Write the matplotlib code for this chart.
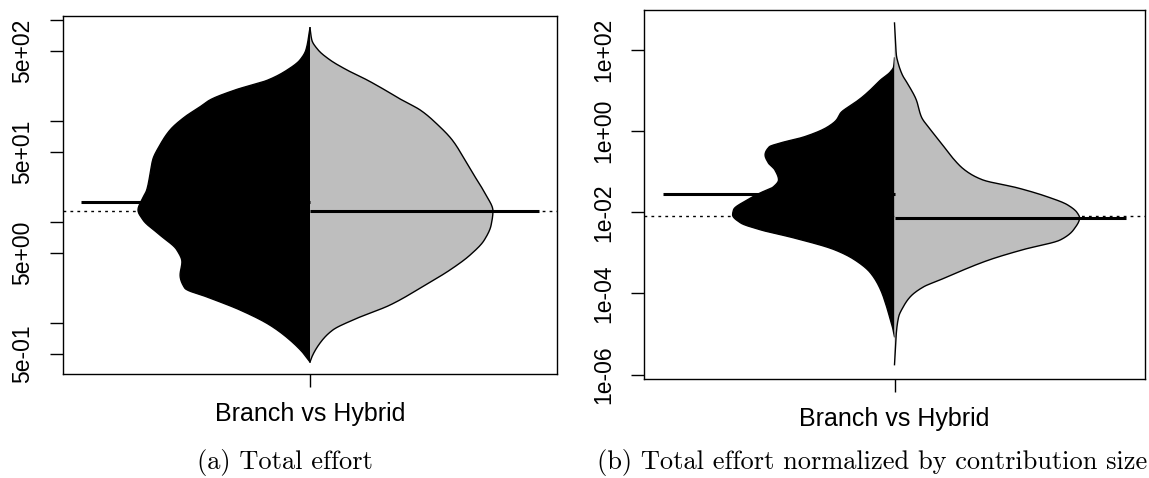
import numpy as np
import matplotlib
matplotlib.use("Agg")
import matplotlib.pyplot as plt

GROUP_LABEL = "Branch vs Hybrid"
CAPTION_A = "(a) Total effort"
CAPTION_B = "(b) Total effort normalized by contribution size"

# ---- (a) Total effort: density half-widths on a log10 grid -------------
effort_branch_log = [2.926, 2.706, 2.607, 2.508, 2.409, 2.310, 2.211, 2.142, 2.043,
                     1.914, 1.766, 1.617, 1.468, 1.320, 1.221, 1.122, 1.023, 0.874,
                     0.726, 0.607, 0.478, 0.350, 0.251, 0.132, -0.017, -0.165,
                     -0.294, -0.383]
effort_branch_width = [0.000, 0.009, 0.022, 0.050, 0.092, 0.164, 0.219, 0.241, 0.274,
                       0.306, 0.328, 0.344, 0.350, 0.357, 0.368, 0.376, 0.365, 0.328,
                       0.291, 0.280, 0.284, 0.274, 0.219, 0.153, 0.088, 0.044,
                       0.015, 0.000]
effort_hybrid_log = [2.926, 2.805, 2.706, 2.607, 2.508, 2.409, 2.310, 2.211, 2.112,
                     1.963, 1.815, 1.617, 1.419, 1.270, 1.112, 0.973, 0.824, 0.676,
                     0.528, 0.379, 0.181, 0.033, -0.066, -0.195, -0.334, -0.383]
effort_hybrid_width = [0.000, 0.004, 0.018, 0.044, 0.081, 0.125, 0.164, 0.201, 0.241,
                       0.280, 0.311, 0.339, 0.365, 0.385, 0.400, 0.396, 0.381, 0.350,
                       0.306, 0.252, 0.175, 0.094, 0.050, 0.022, 0.004, 0.000]
effort_branch_mean = 15.9
effort_hybrid_mean = 12.94
effort_overall_mean = 13.03
effort_ticks = [0.5, 1, 5, 10, 50, 100, 500, 1000]
effort_tick_labels = ["5e-01", "", "5e+00", "", "5e+01", "", "5e+02", ""]

# ---- (b) Effort normalized by contribution size ------------------------
norm_branch_log = [1.804, 1.582, 1.459, 1.262, 1.016, 0.844, 0.696, 0.450, 0.277,
                   0.105, -0.142, -0.289, -0.388, -0.585, -0.782, -0.954, -1.201,
                   -1.373, -1.521, -1.693, -1.940, -2.063, -2.260, -2.432, -2.629,
                   -2.925, -3.171, -3.491, -3.910, -4.329, -4.649, -4.895, -5.068]
norm_branch_width = [0.000, 0.002, 0.009, 0.030, 0.052, 0.069, 0.086, 0.116, 0.125,
                     0.144, 0.195, 0.245, 0.270, 0.279, 0.272, 0.258, 0.250,
                     0.261, 0.289, 0.317, 0.347, 0.349, 0.332, 0.289, 0.218,
                     0.129, 0.086, 0.052, 0.030, 0.017, 0.009, 0.003, 0.000]
norm_hybrid_log = [2.666, 2.247, 1.878, 1.632, 1.385, 1.139, 0.770, 0.351, 0.031,
                   -0.462, -0.708, -0.954, -1.201, -1.398, -1.620, -1.817, -2.014,
                   -2.137, -2.432, -2.679, -2.925, -3.171, -3.491, -3.664, -3.836,
                   -4.083, -4.329, -4.575, -4.969, -5.338, -5.757]
norm_hybrid_width = [0.000, 0.002, 0.004, 0.009, 0.017, 0.030, 0.047, 0.058, 0.078,
                     0.112, 0.129, 0.151, 0.190, 0.265, 0.330, 0.373, 0.394,
                     0.399, 0.386, 0.358, 0.276, 0.205, 0.134, 0.099, 0.063,
                     0.034, 0.019, 0.009, 0.004, 0.002, 0.000]
norm_branch_mean = 0.0282
norm_hybrid_mean = 0.00718
norm_overall_mean = 0.0083
norm_ticks = [1e-6, 1e-4, 1e-2, 1, 100]
norm_tick_labels = ["1e-06", "1e-04", "1e-02", "1e+00", "1e+02"]

FIG_W, FIG_H = 1149, 478
DPI = 100
BEAN_GRAY = "#BEBEBE"


def pchip(x, y, xs):
    """Monotone cubic (Fritsch-Carlson) curve through the given knots."""
    x = np.asarray(x, float)
    y = np.asarray(y, float)
    h = np.diff(x)
    d = np.diff(y) / h
    m = np.zeros_like(y)
    for k in range(1, len(x) - 1):
        if d[k - 1] * d[k] > 0:
            w1 = 2 * h[k] + h[k - 1]
            w2 = h[k] + 2 * h[k - 1]
            m[k] = (w1 + w2) / (w1 / d[k - 1] + w2 / d[k])
    m[0] = d[0]
    m[-1] = d[-1]
    idx = np.clip(np.searchsorted(x, xs) - 1, 0, len(x) - 2)
    t = (xs - x[idx]) / h[idx]
    h00 = 2 * t**3 - 3 * t**2 + 1
    h10 = t**3 - 2 * t**2 + t
    h01 = -2 * t**3 + 3 * t**2
    h11 = t**3 - t**2
    return (h00 * y[idx] + h10 * h[idx] * m[idx]
            + h01 * y[idx + 1] + h11 * h[idx] * m[idx + 1])


def half_profile(logs, widths):
    logs = np.asarray(logs, float)[::-1]
    widths = np.asarray(widths, float)[::-1]
    grid = np.linspace(logs[0], logs[-1], 600)
    w = np.clip(pchip(logs, widths, grid), 0, None)
    return 10 ** grid, w


def draw_bean(ax, left_log, left_w, right_log, right_w,
              left_mean, right_mean, overall, center=1.0, line_len=0.5):
    ax.axhline(overall, color="black", lw=1.0, ls=(0, (2, 3)), zorder=1)

    yl, wl = half_profile(left_log, left_w)
    ax.fill_betweenx(yl, center - wl, center, facecolor="black",
                     edgecolor="none", zorder=2)
    ax.plot(center - wl, yl, color="black", lw=1.0, zorder=2)

    yr, wr = half_profile(right_log, right_w)
    ax.fill_betweenx(yr, center, center + wr, facecolor=BEAN_GRAY,
                     edgecolor="none", zorder=2)
    ax.plot(center + wr, yr, color="black", lw=1.0, zorder=3)

    ax.plot([center - line_len, center], [left_mean, left_mean], color="black",
            lw=2.2, solid_capstyle="butt", zorder=4)
    ax.plot([center, center + line_len], [right_mean, right_mean], color="black",
            lw=2.2, solid_capstyle="butt", zorder=4)


def style_axes(ax, ticks, labels, ylim):
    ax.set_yscale("log")
    ax.set_xlim(0.46, 1.54)
    ax.set_ylim(*ylim)
    ax.yaxis.set_major_locator(matplotlib.ticker.FixedLocator(ticks))
    ax.yaxis.set_minor_locator(matplotlib.ticker.NullLocator())
    ax.set_yticklabels(labels, rotation=90, va="center",
                       family="Liberation Sans", fontsize=16.5)
    ax.set_xticks([1.0])
    ax.set_xticklabels([GROUP_LABEL], family="Liberation Sans", fontsize=18)
    ax.tick_params(axis="y", length=9.5, width=1.0, pad=11)
    ax.tick_params(axis="x", length=9.5, width=1.0, pad=11)
    for sp in ax.spines.values():
        sp.set_linewidth(1.0)


fig = plt.figure(figsize=(FIG_W / DPI, FIG_H / DPI), dpi=DPI)


def px_axes(left, top, right, bottom):
    return fig.add_axes([left / FIG_W, 1 - bottom / FIG_H,
                         (right - left) / FIG_W, (bottom - top) / FIG_H])


ax_a = px_axes(63, 16, 557, 374)
draw_bean(ax_a, effort_branch_log, effort_branch_width,
          effort_hybrid_log, effort_hybrid_width,
          effort_branch_mean, effort_hybrid_mean, effort_overall_mean)
style_axes(ax_a, effort_ticks, effort_tick_labels, (10 ** -0.502, 10 ** 3.043))

ax_b = px_axes(644, 10, 1145, 379)
draw_bean(ax_b, norm_branch_log, norm_branch_width,
          norm_hybrid_log, norm_hybrid_width,
          norm_branch_mean, norm_hybrid_mean, norm_overall_mean)
style_axes(ax_b, norm_ticks, norm_tick_labels, (10 ** -6.110, 10 ** 2.986))

fig.text(285 / FIG_W, 1 - 469 / FIG_H, CAPTION_A, family="cmr10",
         fontsize=19, ha="center", va="baseline")
fig.text(872 / FIG_W, 1 - 469 / FIG_H, CAPTION_B, family="cmr10",
         fontsize=19, ha="center", va="baseline")

fig.savefig("out.png", dpi=DPI)
